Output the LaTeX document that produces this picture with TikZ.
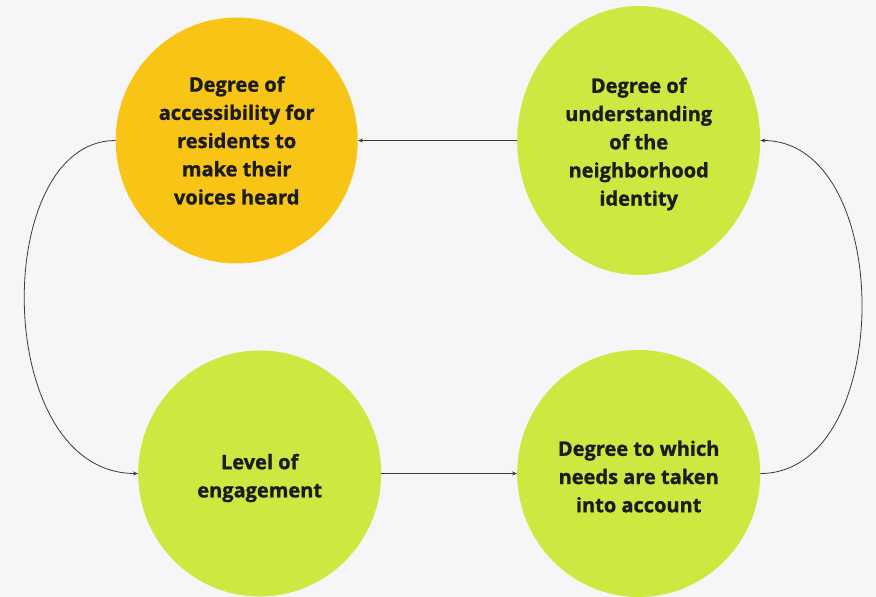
\documentclass[tikz,border=0pt]{standalone}
\usepackage{fontspec}
\setmainfont{Open Sans}[BoldFeatures={FakeBold=1.2}]
\usetikzlibrary{shapes.geometric,arrows.meta}
\definecolor{bgcol}{HTML}{F6F6F8}
\definecolor{yel}{HTML}{F8C516}
\definecolor{lime}{HTML}{CEE741}
\definecolor{txt}{HTML}{1C1C1C}
\definecolor{linecol}{HTML}{3A3A3A}
\tikzset{
  bubble/.style={ellipse, inner sep=0pt},
  bubbletext/.style={inner sep=0pt, align=center, text=txt,
    font=\fontsize{20}{28.2}\selectfont\bfseries},
  link/.style={draw=linecol, line width=0.8pt, -{Stealth[length=5pt,width=4pt]}}
}
\begin{document}
\begin{tikzpicture}[x=1pt,y=-1pt]
\fill[bgcol] (0,0) rectangle (876,597);
\useasboundingbox (0,0) rectangle (876,597);
\node[bubble, fill=yel, minimum width=242pt, minimum height=246pt,
  label={[bubbletext]center:{Degree of\\accessibility for\\residents to\\make their\\voices heard}}] (tl) at (236.7,140.5) {};
\node[bubble, fill=lime, minimum width=243pt, minimum height=269pt,
  label={[bubbletext, yshift=-3.5pt]center:{Degree of\\understanding\\of the\\neighborhood\\identity}}] (tr) at (638.7,140.5) {};
\node[bubble, fill=lime, minimum width=243pt, minimum height=246pt,
  label={[bubbletext, yshift=-4.5pt]center:{Level of\\engagement}}] (bl) at (259.7,473.5) {};
\node[bubble, fill=lime, minimum width=243pt, minimum height=247pt,
  label={[bubbletext, yshift=-3pt]center:{Degree to which\\needs are taken\\into account}}] (br) at (638.7,473.5) {};
\draw[link] (tr.west) -- (tl.east);
\draw[link] (bl.east) -- (br.west);
\draw[link] (tl.west) .. controls +(-125,0) and +(-147,0) .. (bl.west);
\draw[link] (br.east) .. controls +(135,0) and +(135,0) .. (tr.east);
\end{tikzpicture}
\end{document}
